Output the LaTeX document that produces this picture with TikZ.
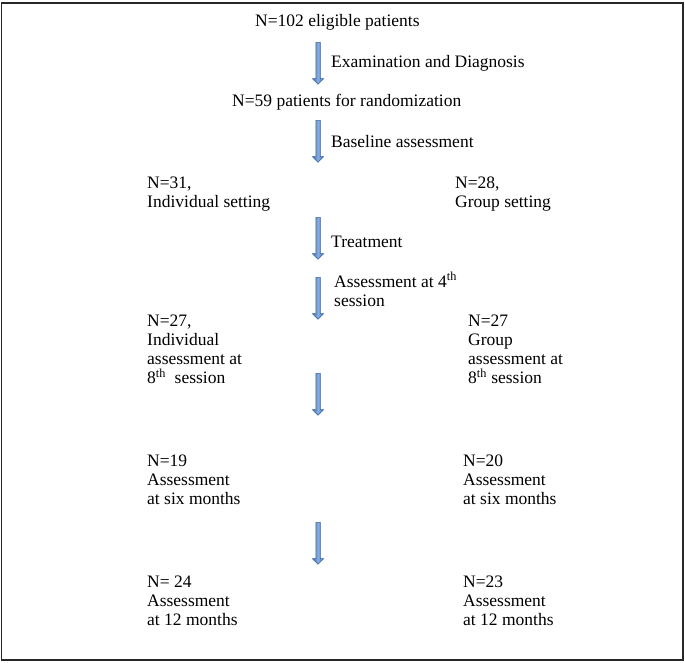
\documentclass[tikz,border=0pt]{standalone}
\usepackage{fontspec}
\setmainfont{Liberation Serif}
\usetikzlibrary{shapes.arrows}
\definecolor{arrowblue}{RGB}{62,112,182}
\definecolor{arrowlight}{RGB}{135,172,222}
\definecolor{framegray}{RGB}{40,40,40}
\begin{document}
\begin{tikzpicture}[x=1pt,y=-1pt,
  lbl/.style={inner sep=0pt,anchor=base west,align=left,font=\fontsize{17.5}{19.3}\selectfont},
  barrow/.style={single arrow,draw=arrowblue!90!black,line width=0.5pt,
    left color=arrowblue,right color=arrowblue,middle color=arrowlight,
    minimum height=42pt,minimum width=11pt,inner sep=2pt,
    single arrow head extend=3.5pt,shape border rotate=270,anchor=tail}]
\useasboundingbox (0,0) rectangle (685,662);
\draw[framegray,line width=1.6pt] (1.5,3) rectangle (683.2,660);

% multi-line nodes: base anchor is the baseline of the last line
\node[lbl] (n102) at (255,26) {N=102 eligible patients};
\node[barrow] (a1) at (318,42) {};
\node[lbl] (exam) at (331,67) {Examination and Diagnosis};
\node[lbl] (n59) at (232,106) {N=59 patients for randomization};
\node[barrow] (a2) at (318,120) {};
\node[lbl] (base) at (331,147) {Baseline assessment};
\node[lbl] (n31) at (147,207.3) {N=31,\\Individual setting};
\node[lbl] (n28) at (455,207.3) {N=28,\\Group setting};
\node[barrow] (a3) at (318,217) {};
\node[lbl] (treat) at (331,247) {Treatment};
\node[barrow] (a4) at (318,277) {};
\node[lbl] (ass4) at (334,306.3) {Assessment at 4\textsuperscript{th}\\session};
\node[lbl] (n27a) at (147,383.9) {N=27,\\Individual\\assessment at\\8\textsuperscript{th}\ \ session};
\node[lbl] (n27b) at (468,383.9) {N=27\\Group\\assessment at\\8\textsuperscript{th} session};
\node[barrow] (a5) at (318,373) {};
\node[lbl] (n19) at (147,504.6) {N=19\\Assessment\\at six months};
\node[lbl] (n20) at (463,504.6) {N=20\\Assessment\\at six months};
\node[barrow] (a6) at (318,522) {};
\node[lbl] (n24) at (147,625.6) {N= 24\\Assessment\\at 12 months};
\node[lbl] (n23) at (463,625.6) {N=23\\Assessment\\at 12 months};
\end{tikzpicture}
\end{document}
